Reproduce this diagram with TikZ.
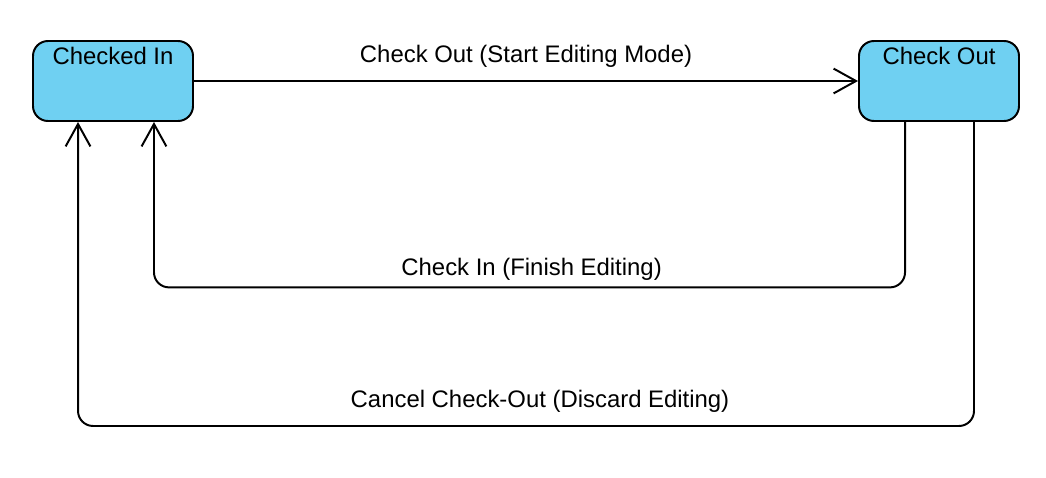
\documentclass[tikz,border=0pt]{standalone}
\usepackage{fontspec}
\setmainfont{Liberation Sans}
\usepackage{xcolor}
\usepackage{tikz}
\usetikzlibrary{arrows.meta}
\definecolor{stateblue}{RGB}{111,208,242}

\begin{document}
\begin{tikzpicture}[
		state/.style={draw, line width=1.4pt, fill=stateblue, rounded corners=0.375cm, minimum width=4cm, minimum height=2cm, inner sep=0pt},
		arr/.style={line width=1.4pt, -{Straight Barb[length=5.6mm, width=6.2mm, line width=1.4pt]}},
		lbl/.style={anchor=base, inner sep=0pt, font=\fontsize{17}{20}\selectfont}
	]
			\useasboundingbox (0, 0) rectangle (26.15, -11.95);
			\node[state] (ci) at (2.825, -2.025) {};
			\node[state] (co) at (23.475, -2.025) {};
			\node[lbl, yshift=-6.2mm] (citext) at (ci.north) {Checked In};
			\node[lbl, yshift=-6.2mm] (cotext) at (co.north) {Check Out};
			\draw [arr] (ci.east) -- (co.west);
			\draw [arr, rounded corners=0.375cm] ([xshift=1.175cm]co.south west) -- ++(0, -4.135) -| ([xshift=-1cm]ci.south east);
			\draw [arr, rounded corners=0.375cm] ([xshift=-1.15cm]co.south east) -- ++(0, -7.6) -| ([xshift=1.15cm]ci.south west);
			\node[lbl] (startlbl) at (13.15, -1.55) {Check Out (Start Editing Mode)};
			\node[lbl] (finishlbl) at (13.29, -6.875) {Check In (Finish Editing)};
			\node[lbl] (discardlbl) at (13.5, -10.175) {Cancel Check-Out (Discard Editing)};
		\end{tikzpicture}
\end{document}
